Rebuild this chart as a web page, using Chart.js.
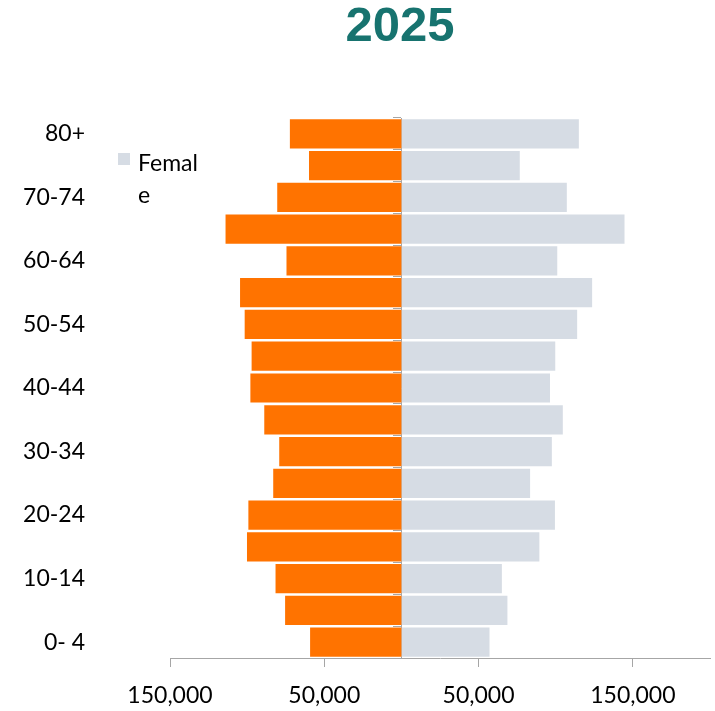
<!DOCTYPE html>
<html>
<head>
<meta charset="utf-8">
<script src="https://cdn.jsdelivr.net/npm/chart.js@4.4.1/dist/chart.umd.min.js"></script>
<style>
    body { margin: 0; background: #fff; }
    #wrap { position: relative; width: 715px; height: 711px; }
    #title {
        position: absolute; left: 300px; top: 0; width: 200px;
        text-align: center; font: bold 49px/49px "Liberation Sans", Arial, sans-serif;
        color: #17736f;
    }
    #legend {
        position: absolute; left: 118px; top: 146px;
        font: 23px/32px Lato, sans-serif; color: #000;
    }
    #legend .box {
        position: absolute; left: 0; top: 7px; width: 12px; height: 12px; background: #d6dce4;
    }
    #legend .txt { margin-left: 20px; }
</style>
</head>
<body>
<div id="wrap">
    <canvas id="pyramid" width="715" height="711"></canvas>
    <div id="title">2025</div>
    <div id="legend"><span class="box"></span><div class="txt">Femal<br>e</div></div>
</div>
<script>
// age groups, top row first
const ageGroups = ['80+', '75-79', '70-74', '65-69', '60-64', '55-59', '50-54', '45-49', '40-44',
    '35-39', '30-34', '25-29', '20-24', '15-19', '10-14', '5-9', '0- 4'];
const maleValues = [72300, 59900, 80500, 114000, 74500, 104600, 101600, 97100, 97900,
    88900, 79200, 83100, 99200, 100100, 81600, 75400, 59200];
const femaleValues = [115000, 76700, 107200, 144600, 101000, 123600, 113900, 99700, 96300,
    104600, 97500, 83400, 99500, 89400, 65100, 68700, 57100];
const xTickValues = [-150000, -50000, 50000, 150000];

let axisGray = '#a6a6a6';
let labelFont = { family: 'Lato', size: 23 };

var ctx = document.getElementById('pyramid').getContext('2d');
var pyramid = new Chart(ctx, {
    type: 'bar',
    data: {
        labels: ageGroups,
        datasets: [{
            label: 'Male',
            data: maleValues.map(v => -v),
            backgroundColor: '#ff7300',
            categoryPercentage: 1,
            barPercentage: 0.92
        }, {
            label: 'Female',
            data: femaleValues,
            backgroundColor: '#d6dce4',
            categoryPercentage: 1,
            barPercentage: 0.92
        }]
    },
    options: {
        indexAxis: 'y',
        responsive: false,
        animation: false,
        layout: { padding: { top: 118, right: 5, left: 0, bottom: 0 } },
        plugins: {
            legend: { display: false },
            tooltip: { enabled: false }
        },
        scales: {
            x: {
                type: 'linear',
                stacked: true,
                min: -150000,
                max: 200000,
                afterBuildTicks: scale => { scale.ticks = xTickValues.map(v => ({ value: v })); },
                afterFit: scale => { scale.height = 53; },
                grid: { drawOnChartArea: false, drawTicks: true, tickLength: 9, color: axisGray },
                border: { color: axisGray },
                ticks: {
                    padding: 15,
                    color: '#000',
                    font: labelFont,
                    maxRotation: 0,
                    callback: v => Math.abs(v).toLocaleString('en-US')
                }
            },
            y: {
                type: 'category',
                stacked: true,
                position: 'left',
                offset: true,
                afterFit: scale => {
                    scale.width = 170;
                    // the big label padding should not push the plot up or down
                    scale.paddingTop = 0;
                    scale.paddingBottom = 0;
                },
                grid: { display: false, drawTicks: false },
                border: { display: false },
                ticks: {
                    autoSkip: false,
                    padding: 85,
                    color: '#000',
                    font: labelFont,
                    callback: (v, i) => i % 2 === 0 ? ageGroups[i] : ''
                }
            },
            // vertical line at zero with its small tick marks
            yCenter: {
                type: 'category',
                axis: 'y',
                position: { x: 0 },
                offset: true,
                grid: { offset: true, drawOnChartArea: false, tickLength: 8, color: axisGray },
                border: { display: true, color: axisGray },
                ticks: { display: false }
            }
        }
    }
});
</script>
</body>
</html>
